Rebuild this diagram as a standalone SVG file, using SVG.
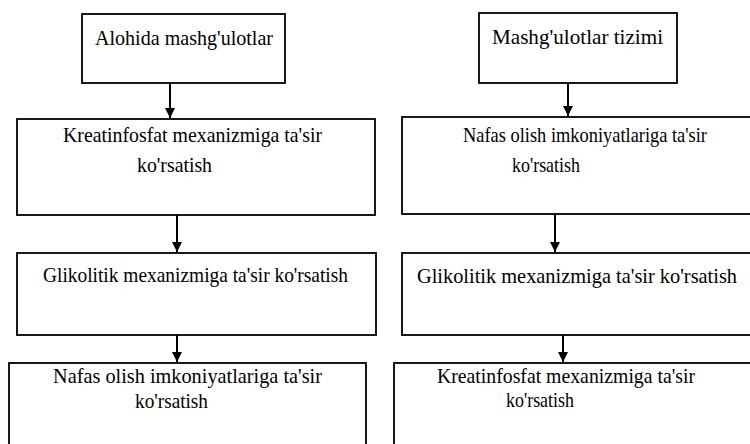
<svg xmlns="http://www.w3.org/2000/svg" width="750" height="444" viewBox="0 0 750 444">
<defs>
<style>
.box{fill:#fff;stroke:#000;stroke-width:1.8}
.t{font-family:"Liberation Serif","Times New Roman",serif;font-size:21px;fill:#000}
.c{stroke:#000;stroke-width:2;fill:none}
</style>
<marker id="ah" viewBox="0 0 10 10" refX="10" refY="5" markerWidth="5" markerHeight="5" orient="auto" markerUnits="strokeWidth">
<path d="M0,0 L10,5 L0,10 z" fill="#000"/>
</marker>
</defs>
<rect width="750" height="444" fill="#fff"/>
<g id="connectors">
<line class="c" x1="170" y1="83" x2="170" y2="118" marker-end="url(#ah)"/>
<line class="c" x1="177" y1="215" x2="177" y2="252" marker-end="url(#ah)"/>
<line class="c" x1="177" y1="335" x2="177" y2="362" marker-end="url(#ah)"/>
<line class="c" x1="568" y1="83" x2="568" y2="116" marker-end="url(#ah)"/>
<line class="c" x1="555" y1="214" x2="555" y2="252" marker-end="url(#ah)"/>
<line class="c" x1="563" y1="335" x2="563" y2="362" marker-end="url(#ah)"/>
</g>
<g id="L1">
<rect class="box" x="82" y="14" width="203" height="69"/>
<text class="t" x="95" y="45" textLength="178" lengthAdjust="spacingAndGlyphs">Alohida mashg'ulotlar</text>
</g>
<g id="L2">
<rect class="box" x="17" y="119" width="358" height="96"/>
<text class="t" x="63" y="142" textLength="259" lengthAdjust="spacingAndGlyphs">Kreatinfosfat mexanizmiga ta'sir</text>
<text class="t" x="137" y="172" textLength="75" lengthAdjust="spacingAndGlyphs">ko'rsatish</text>
</g>
<g id="L3">
<rect class="box" x="17" y="253" width="359" height="82"/>
<text class="t" x="43" y="282" textLength="305" lengthAdjust="spacingAndGlyphs">Glikolitik mexanizmiga ta'sir ko'rsatish</text>
</g>
<g id="L4">
<rect class="box" x="9" y="363" width="357" height="90"/>
<text class="t" x="53" y="383" textLength="269" lengthAdjust="spacingAndGlyphs">Nafas olish imkoniyatlariga ta'sir</text>
<text class="t" x="135" y="408" textLength="73" lengthAdjust="spacingAndGlyphs">ko'rsatish</text>
</g>
<g id="R1">
<rect class="box" x="479" y="13" width="198" height="70"/>
<text class="t" x="492" y="44" textLength="171" lengthAdjust="spacingAndGlyphs">Mashg'ulotlar tizimi</text>
</g>
<g id="R2">
<rect class="box" x="402" y="117" width="360" height="97"/>
<text class="t" x="463" y="142" textLength="244" lengthAdjust="spacingAndGlyphs">Nafas olish imkoniyatlariga ta'sir</text>
<text class="t" x="512" y="172" textLength="68" lengthAdjust="spacingAndGlyphs">ko'rsatish</text>
</g>
<g id="R3">
<rect class="box" x="402" y="253" width="360" height="82"/>
<text class="t" x="417" y="283" textLength="320" lengthAdjust="spacingAndGlyphs">Glikolitik mexanizmiga ta'sir ko'rsatish</text>
</g>
<g id="R4">
<rect class="box" x="394" y="363" width="368" height="90"/>
<text class="t" x="437" y="383" textLength="258" lengthAdjust="spacingAndGlyphs">Kreatinfosfat mexanizmiga ta'sir</text>
<text class="t" x="506" y="407" textLength="68" lengthAdjust="spacingAndGlyphs">ko'rsatish</text>
</g>
</svg>
